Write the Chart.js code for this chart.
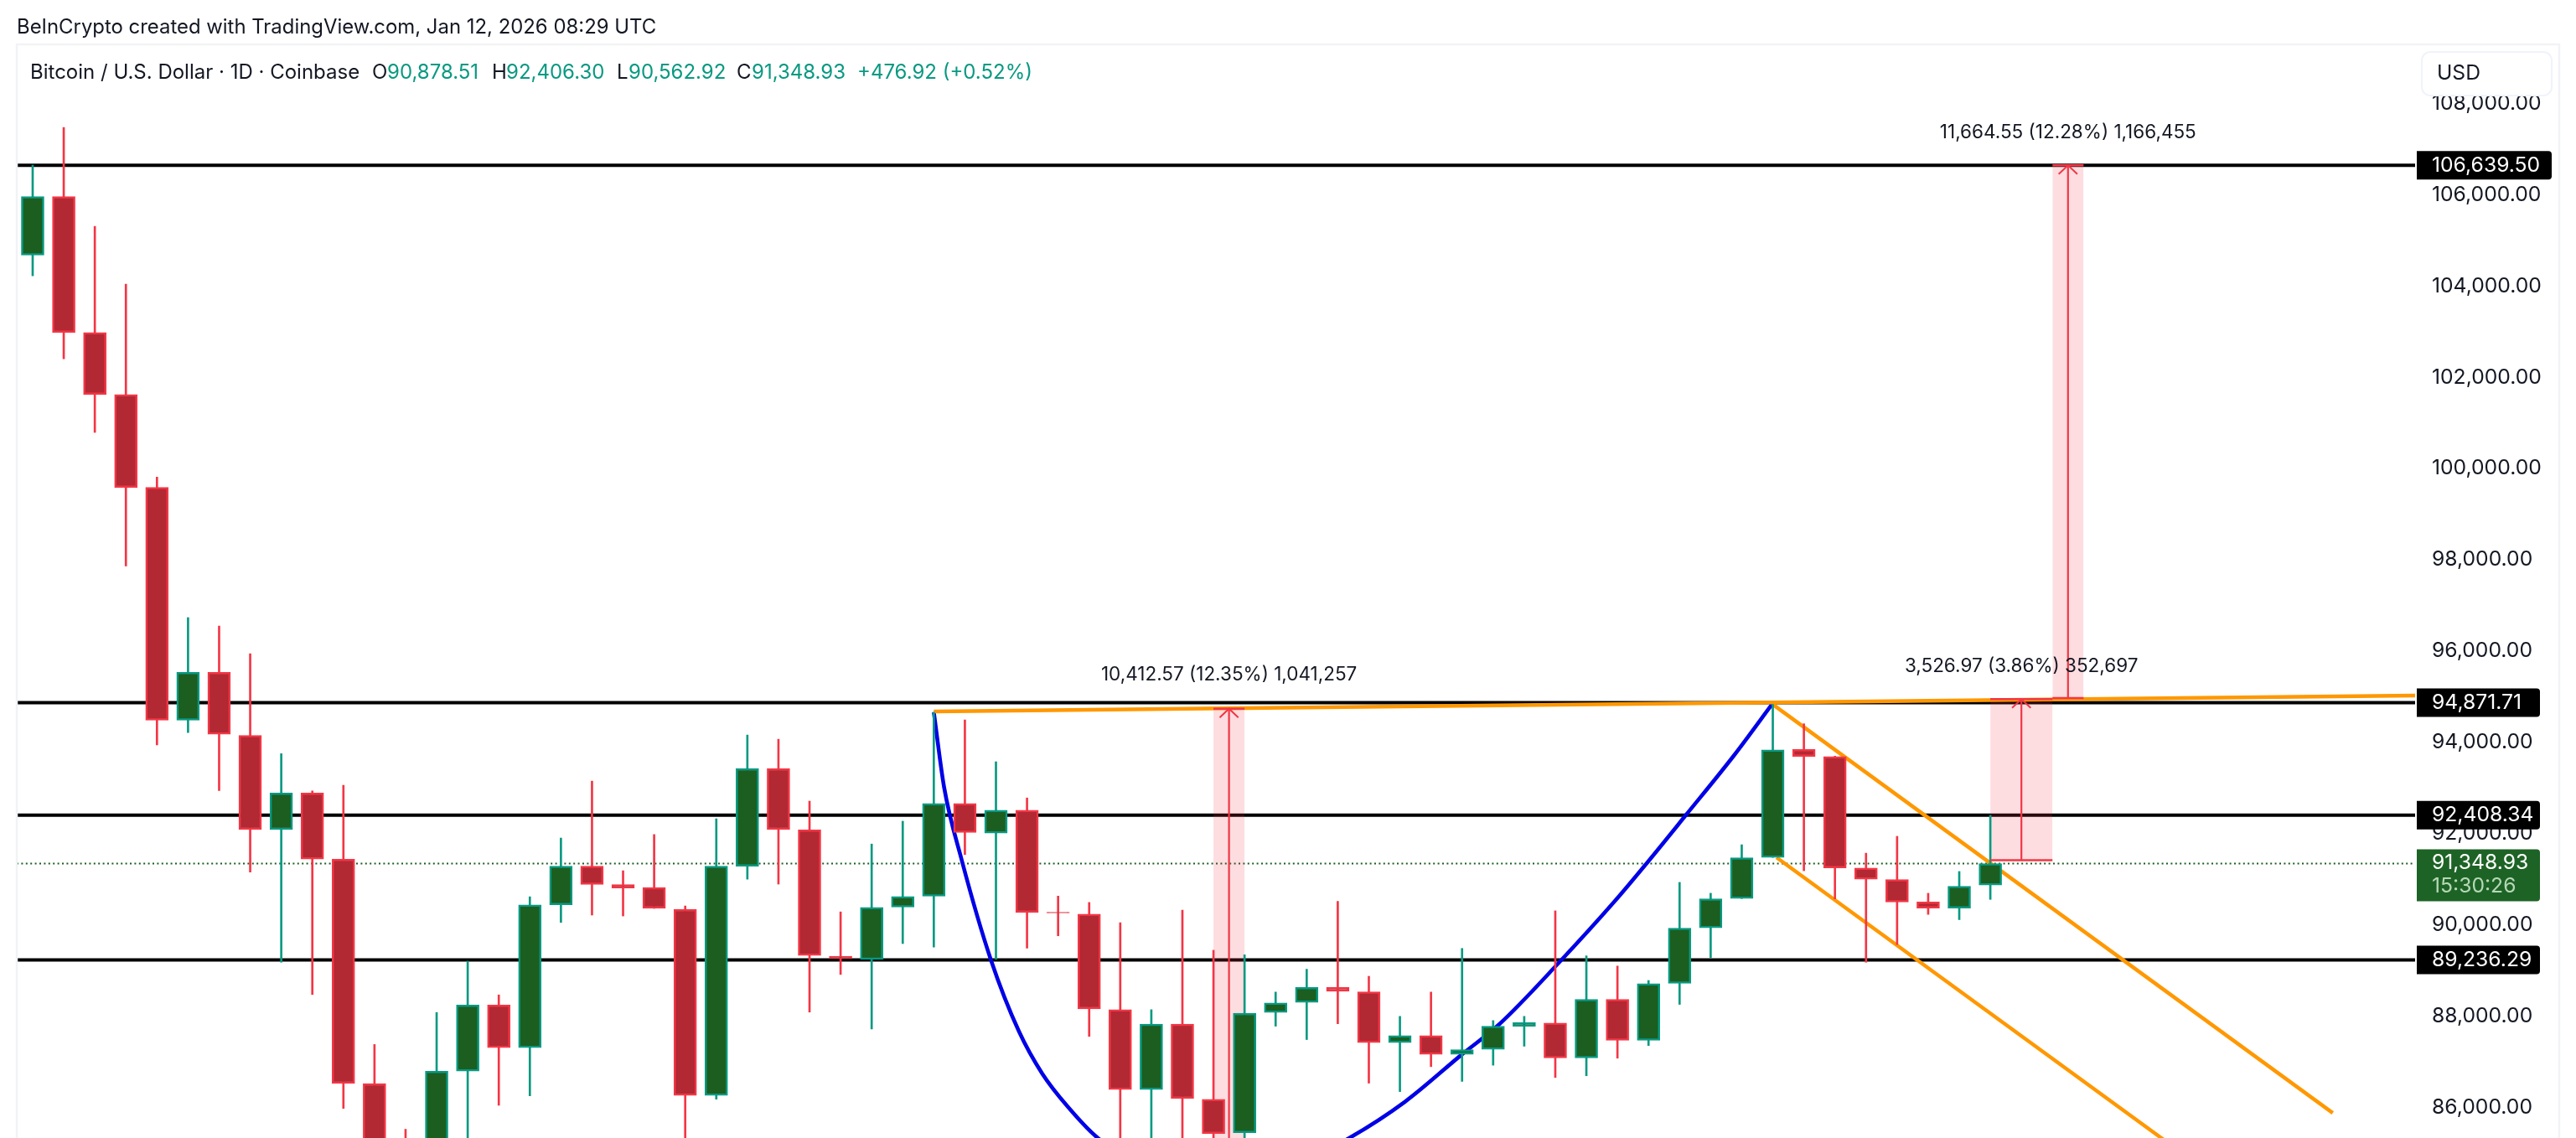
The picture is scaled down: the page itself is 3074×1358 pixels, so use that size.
<!DOCTYPE html>
<html><head><meta charset="utf-8">
<script src="https://cdn.jsdelivr.net/npm/chart.js@4/dist/chart.umd.min.js"></script>
<style>
html,body{margin:0;padding:0;background:#fff;width:3074px;height:1358px;overflow:hidden}
#wrap{position:relative;width:3074px;height:1358px}
canvas{position:absolute;left:0;top:0}
.t{position:absolute;white-space:nowrap;font-family:Inter,sans-serif;color:#131722;top:71px;font-size:24px;line-height:30px}
.g{color:#089981}
</style></head><body>
<div id="wrap">
<canvas id="c" width="3074" height="1358" style="width:3074px;height:1358px"></canvas>
<div class="t" style="left:20px;top:17px;font-size:23.9px">BeInCrypto created with TradingView.com, Jan 12, 2026 08:29 UTC</div>
<div class="t" style="left:36px;">Bitcoin / U.S. Dollar · 1D · Coinbase</div>
<div class="t" style="left:444px;">O</div>
<div class="t g" style="left:462px;">90,878.51</div>
<div class="t" style="left:587px;">H</div>
<div class="t g" style="left:604px;">92,406.30</div>
<div class="t" style="left:736px;">L</div>
<div class="t g" style="left:750px;">90,562.92</div>
<div class="t" style="left:879px;">C</div>
<div class="t g" style="left:897px;">91,348.93</div>
<div class="t g" style="left:1023px;">+476.92 (+0.52%)</div>
</div>
<script>
const opens  = [104674,105957,102979,101621,99586,94487,95534,94155,92092,92892,91445,86531,84600,84800,86801,88249,87317,90444,91291,90890,90824,90348,86269,91291,93432,92084,89319,89250,90397,90636,92662,92015,92515,90282,90243,88148,86401,87833,86185,85453,88087,88310,88634,88541,87425,87579,87171,87279,87787,87856,87094,88372,87479,88726,89943,90582,91483,93847,93693,91252,90998,90505,90374,90878.51];
const highs  = [106643,107469,105303,104037,99811,96735,96550,95942,93755,92939,93062,87386,85530,88087,89211,88472,90621,91907,93154,91191,91984,90422,92330,94163,94071,92716,90290,91776,92276,94664,94494,93578,92785,90636,90497,90051,88148,90328,89450,89350,88534,89034,90521,88880,88002,88534,89490,87910,88002,90313,89327,89104,88788,90936,90698,91760,94833,94410,93701,91576,91945,90698,91175,92406.30];
const lows   = [104220,102404,100790,97863,93948,94217,92946,91160,89188,88480,85985,84000,83500,84400,85200,86054,86262,90059,90220,90200,90367,85200,86188,91006,90898,88095,88919,87725,89596,89520,91545,89250,89496,89766,87563,85200,85100,85100,85200,85200,87787,87494,87840,86539,86354,86901,86578,86932,87348,86663,86701,87086,87363,88264,89288,90582,91483,91191,90574,89188,89574,90235,90120,90562.92];
const closes = [105957,102979,101621,99586,94487,95534,94179,92092,92892,91445,86531,84800,84000,86801,88249,87317,90444,91291,90890,90813,90367,86269,91291,93432,92092,89335,89265,90390,90628,92662,92030,92515,90274,90266,88164,86401,87833,86200,85438,88072,88295,88634,88549,87425,87579,87171,87271,87787,87864,87094,88372,87479,88718,89935,90574,91476,93840,93693,91252,91006,90505,90374,90852,91348.93];

const yTicks = [108000,106000,104000,102000,100000,98000,96000,94000,92000,90000,88000,86000];
const levels = [106639.50,94871.71,92408.34,89236.29];
const lastPrice = 91348.93;
const countdown = "15:30:26";
const currency = "USD";

const curveX = [29,29.33,29.89,30.84,31.74,32.49,33.32,34.28,36,38.3,40.5,42.37,44.16,46,47.19,49.11,50.91,51.93,53.2,54.75,55.97];
const curveP = [94664,93023,91445,89234,87672,86747,86015,85338,84700,84300,84700,85338,86131,87171,87825,89173,90521,91345,92407,93716,94833];

const resistX = [29,76.67], resistP = [94680,95028];
const chanUpX = [56,74.02], chanUpP = [94833,85886];
const chanLoX = [56.12,74.02], chanLoP = [91483,82600];

const measX0 = [38,63,65], measX1 = [39,65,66];
const measLo = [84327,91422,94975], measHi = [94740,94949,106639.5];
const measText = ["10,412.57 (12.35%) 1,041,257","3,526.97 (3.86%) 352,697","11,664.55 (12.28%) 1,166,455"];
const measLabelY = [805,795,158];

const GREEN_B="#1b5e20", GREEN_L="#089981", RED_B="#b22833", RED_L="#f23645";
const PINK="rgba(242,54,69,0.17)", ORANGE="#ff9800", BLUE="#0000e6";
const XMIN=-0.512, XMAX=76.67, YMIN=85338, YMAX=109269;
const FONT='Inter, sans-serif';
const fmt=v=>v.toLocaleString('en-US',{minimumFractionDigits:2,maximumFractionDigits:2});
const line=(xs,ps)=>xs.map((x,i)=>({x,y:ps[i]}));
const up=i=>closes[i]>=opens[i];

const datasets=[];
levels.forEach(l=>datasets.push({type:'line',data:line([XMIN,XMAX],[l,l]),borderColor:'#000',borderWidth:4,pointRadius:0,order:100}));
datasets.push({type:'line',data:line([XMIN,XMAX],[lastPrice,lastPrice]),borderColor:GREEN_B,borderWidth:2,borderDash:[2,3.4],pointRadius:0,order:99});
measHi.forEach((h,i)=>{
  const mid=(measX0[i]+measX1[i])/2;
  datasets.push({type:'line',data:line([measX0[i],measX1[i]],[h,h]),borderColor:'rgba(0,0,0,0)',borderWidth:0,pointRadius:0,fill:{target:{value:measLo[i]},above:PINK,below:PINK},order:90});
  datasets.push({type:'line',data:line([measX0[i],measX1[i]],[h,h]),borderColor:RED_L,borderWidth:2.5,pointRadius:0,order:40});
  datasets.push({type:'line',data:line([measX0[i],measX1[i]],[measLo[i],measLo[i]]),borderColor:RED_L,borderWidth:2.5,pointRadius:0,order:40});
  datasets.push({type:'line',data:line([mid,mid],[measLo[i],h]),borderColor:RED_L,borderWidth:2.2,pointRadius:0,order:40});
  datasets.push({type:'line',data:line([mid-0.3,mid,mid+0.3],[h-193,h,h-193]),borderColor:RED_L,borderWidth:2,pointRadius:0,order:40});
});
datasets.push({type:'line',data:line(curveX,curveP),borderColor:BLUE,borderWidth:4.6,pointRadius:0,cubicInterpolationMode:'monotone',order:80});
[[resistX,resistP],[chanUpX,chanUpP],[chanLoX,chanLoP]].forEach(([x,p])=>datasets.push({type:'line',data:line(x,p),borderColor:ORANGE,borderWidth:4.4,pointRadius:0,order:70}));
datasets.push({type:'bar',data:highs.map((h,i)=>({x:i,y:[lows[i],h]})),backgroundColor:highs.map((_,i)=>up(i)?GREEN_L:RED_L),borderWidth:0,barThickness:2,grouped:false,order:60});
datasets.push({type:'bar',data:opens.map((o,i)=>({x:i,y:[o,closes[i]]})),backgroundColor:opens.map((_,i)=>up(i)?GREEN_B:RED_B),borderColor:opens.map((_,i)=>up(i)?GREEN_L:RED_L),borderWidth:2.5,borderSkipped:false,barThickness:27,grouped:false,order:50});

function rr(ctx,x,y,w,h,r){ctx.beginPath();ctx.roundRect(x,y,w,h,r);}
const overlay={id:'overlay',afterDraw(chart){
  const ctx=chart.ctx,ys=chart.scales.y,xs=chart.scales.x;
  ctx.save();
  ctx.strokeStyle='#f2f3f5';ctx.lineWidth=2.5;
  ctx.beginPath();ctx.moveTo(20,1358);ctx.lineTo(20,53);ctx.lineTo(3054,53);ctx.lineTo(3054,1358);ctx.stroke();
  ctx.textBaseline='middle';ctx.textAlign='center';ctx.fillStyle='#131722';ctx.font='22.5px '+FONT;
  measText.forEach((t,i)=>ctx.fillText(t,xs.getPixelForValue((measX0[i]+measX1[i])/2),measLabelY[i]));
  ctx.fillStyle='#fff';ctx.strokeStyle='#f0f3fa';ctx.lineWidth=2;
  rr(ctx,2890,62,155,52,10);ctx.fill();ctx.stroke();
  ctx.fillStyle='#131722';ctx.textAlign='left';ctx.font='24.7px '+FONT;
  ctx.fillText(currency,2908,88);
  levels.forEach(l=>{
    const y=ys.getPixelForValue(l), w=l>=100000?161:147;
    ctx.fillStyle='#000';rr(ctx,2884,y-17,w,34,[0,4,4,0]);ctx.fill();
    ctx.fillStyle='#fff';ctx.fillText(fmt(l),2902,y);
  });
  const y=ys.getPixelForValue(lastPrice);
  ctx.fillStyle='#1e6326';rr(ctx,2884,y-17,147,62,[0,4,4,0]);ctx.fill();
  ctx.fillStyle='#fff';ctx.fillText(fmt(lastPrice),2902,y-0.5);
  ctx.fillStyle='#b5d8b6';ctx.fillText(countdown,2902,y+27);
  ctx.restore();
}};

new Chart(document.getElementById('c'),{
  data:{datasets},
  plugins:[overlay],
  options:{
    responsive:false,animation:false,devicePixelRatio:1,
    layout:{autoPadding:false,padding:{left:20,top:54,right:0,bottom:0}},
    plugins:{legend:{display:false},tooltip:{enabled:false},title:{display:false}},
    scales:{
      x:{type:'linear',display:false,offset:false,min:XMIN,max:XMAX,grid:{display:false,offset:false},ticks:{display:false},afterFit:a=>{a.height=0;a.paddingBottom=0;a.paddingTop=0;a.paddingLeft=0;a.paddingRight=0;}},
      y:{type:'linear',position:'right',min:YMIN,max:YMAX,
        grid:{display:false,drawTicks:false},border:{display:false},
        afterBuildTicks:a=>{a.ticks=yTicks.map(v=>({value:v}));},
        afterFit:a=>{a.width=192;a.paddingTop=0;a.paddingBottom=0;},
        ticks:{autoSkip:false,padding:20,crossAlign:'near',color:'#131722',font:{family:'Inter',size:24.7},callback:v=>fmt(v)}
      }
    }
  }
});
</script>
</body></html>
